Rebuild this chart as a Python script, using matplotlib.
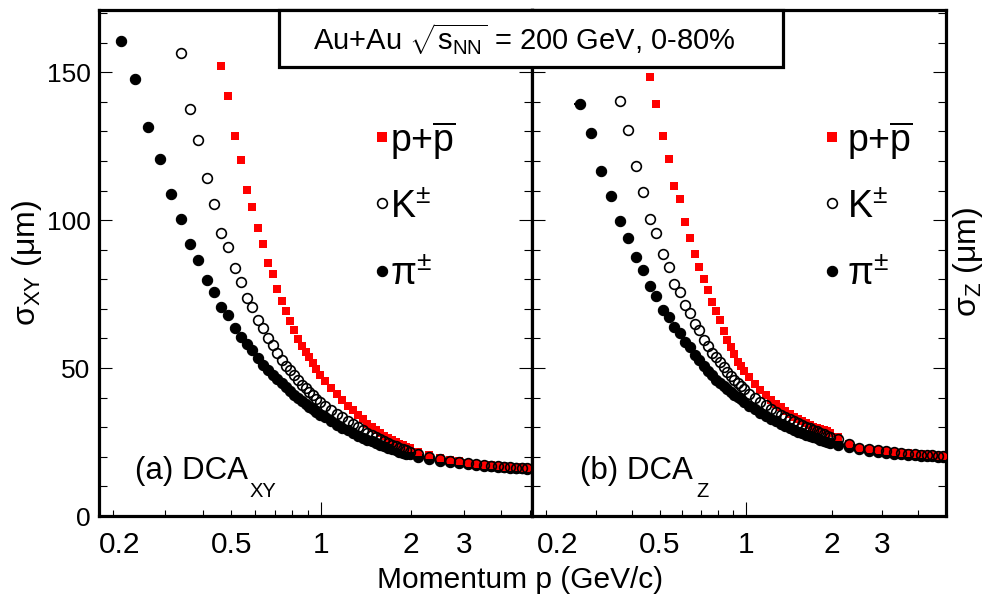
import matplotlib
matplotlib.use('Agg')
import matplotlib.pyplot as plt
from matplotlib.ticker import FixedLocator, FixedFormatter, MultipleLocator
from matplotlib.patches import Rectangle
from matplotlib.transforms import ScaledTranslation

plt.rcParams['font.family'] = ['Liberation Sans', 'DejaVu Sans']
plt.rcParams['mathtext.fontset'] = 'custom'
plt.rcParams['mathtext.rm'] = 'Liberation Sans'
plt.rcParams['mathtext.it'] = 'Liberation Sans:italic'
plt.rcParams['mathtext.bf'] = 'Liberation Sans:bold'

# momentum bin centres (GeV/c)
momentum = [0.2125, 0.2375, 0.2625, 0.2875, 0.3125, 0.3375, 0.3625, 0.3875, 0.4125, 0.4375,
            0.4625, 0.4875, 0.5125, 0.5375, 0.5625, 0.5875, 0.6125, 0.6375, 0.6625, 0.6875,
            0.7125, 0.7375, 0.7625, 0.7875, 0.8125, 0.8375, 0.8625, 0.8875, 0.9125, 0.9375,
            0.9625, 0.9875,
            1.025, 1.075, 1.125, 1.175, 1.225, 1.275, 1.325, 1.375, 1.425, 1.475,
            1.525, 1.575, 1.625, 1.675, 1.725, 1.775, 1.825, 1.875, 1.925, 1.975,
            2.1, 2.3, 2.5, 2.7, 2.9, 3.1, 3.3, 3.5, 3.7, 3.9, 4.1, 4.3, 4.5, 4.7, 4.9]

# (a) DCA_XY resolution (um)
pion_xy = [160.4, 147.6, 131.3, 120.6, 108.9, 100.3, 91.8, 86.5, 79.7, 75.6,
           70.7, 67.9, 63.4, 60.6, 58.1, 56.1, 53.3, 51.0, 49.5, 47.8,
           46.3, 44.8, 43.5, 42.2, 41.0, 39.9, 38.8, 37.8, 36.9, 36.0,
           35.1, 34.3,
           33.3, 32.0, 30.9, 29.8, 28.9, 28.0, 27.2, 26.5, 25.8, 25.2,
           24.6, 24.0, 23.5, 23.0, 22.6, 22.2, 21.8, 21.4, 21.1, 20.8,
           20.1, 19.3, 18.7, 18.3, 17.9, 17.6, 17.3, 17.0, 16.8, 16.6, 16.5, 16.3, 16.2, 16.1, 16.0]
kaon_xy = [156.4, 137.4, 127.0, 114.2, 105.3,
           95.8, 91.0, 83.9, 79.2, 73.6, 70.6, 66.3, 63.7, 60.0, 57.8,
           55.2, 52.7, 50.8, 49.2, 47.6, 45.9, 44.3, 43.1, 41.9, 40.8,
           39.6, 38.6,
           37.2, 35.8, 34.4, 33.3, 32.1, 31.2, 30.1, 29.1, 28.2, 27.4,
           26.6, 25.9, 25.2, 24.6, 24.0, 23.5, 23.0, 22.6, 22.2, 21.8,
           20.9, 20.0, 19.3, 18.7, 18.2, 17.8, 17.5, 17.2, 17.0, 16.8, 16.6, 16.4, 16.3, 16.2, 16.1]
proton_xy = [152.1, 142.1, 128.3, 120.2, 110.1, 104.5, 97.2, 91.8, 85.6, 81.8,
             76.7, 72.7, 69.4, 66.0, 62.8, 59.8, 57.6, 55.5, 53.6, 51.6,
             49.6, 47.8,
             45.7, 43.2, 41.1, 39.1, 37.3, 35.8, 34.2, 32.7, 31.2, 30.0,
             29.0, 28.0, 27.1, 26.3, 25.6, 25.0, 24.4, 23.9, 23.4, 22.9,
             21.8, 20.5, 19.7, 19.0, 18.5, 18.0, 17.7, 17.4, 17.1, 16.9, 16.7, 16.6, 16.4, 16.3, 16.2]

# (b) DCA_Z resolution (um)
pion_z = [139.4, 129.5, 116.6, 108.1, 99.7, 94.1, 87.5, 83.1,
          77.7, 74.2, 69.6, 67.3, 63.8, 62.0, 58.9, 57.0, 54.5, 52.6,
          50.6, 49.0, 47.5, 46.1, 44.9, 43.8, 42.8, 41.9, 41.0, 40.2,
          39.4, 38.6,
          37.3, 36.0, 34.7, 33.7, 32.8, 32.0, 31.2, 30.4, 29.7, 29.0,
          28.5, 28.0, 27.5, 27.0, 26.6, 26.2, 25.8, 25.4, 25.0, 24.6,
          24.0, 23.2, 22.5, 22.1, 21.7, 21.4, 21.1, 20.9, 20.7, 20.5, 20.4, 20.3, 20.2, 20.1, 20.0]
kaon_z = [140.3, 130.4, 118.2, 109.4,
          100.3, 95.8, 88.6, 84.1, 78.5, 75.6, 71.3, 68.5, 65.0, 62.8,
          59.5, 57.3, 55.2, 53.6, 52.0, 50.3, 48.6, 47.3, 46.1, 45.0,
          44.0, 43.0,
          41.4, 40.0, 38.7, 37.4, 36.2, 35.2, 34.3, 33.5, 32.7, 32.0,
          31.4, 30.8, 30.2, 29.6, 29.1, 28.6, 28.1, 27.6, 27.2, 26.8,
          25.9, 24.5, 23.1, 22.5, 22.2, 21.9, 21.6, 21.3, 21.1, 20.9, 20.7, 20.6, 20.5, 20.4, 20.3]
proton_z = [148.4, 139.4, 128.4, 120.6, 111.6, 107.1, 99.2, 93.9, 88.7, 84.2,
            80.1, 76.4, 72.4, 69.4, 66.2, 62.5, 59.6, 57.0, 54.6, 52.1,
            50.6, 49.0,
            46.9, 44.6, 42.6, 40.8, 39.2, 37.9, 36.7, 35.5, 34.4, 33.5,
            32.7, 32.0, 31.3, 30.7, 30.2, 29.8, 29.4, 29.0, 28.6, 28.1,
            26.6, 24.5, 22.9, 22.5, 22.3, 22.1, 21.7, 21.4, 21.2, 20.9, 20.8, 20.6, 20.5, 20.4, 20.3]

species_labels = [r'p+$\overline{\mathrm{p}}$', r'K$^{\pm}$', r'π$^{\pm}$']
x_minor_ticks = [0.2, 0.3, 0.4, 0.5, 0.6, 0.7, 0.8, 0.9, 2, 3, 4, 5]
x_minor_labels = ['0.2', '', '', '0.5', '', '', '', '', '2', '3', '', '']


def pad_to(values):
    # series that start later use the last len(values) momentum bins
    return momentum[len(momentum) - len(values):]


def draw_panel(ax, pion, kaon, proton, xlim, legend_x, text_x, tag_x, tag, sub, sub_x, shift_02):
    ax.plot(pad_to(pion), pion, 'o', color='black', ms=7.4, mew=0.8, zorder=3)
    ax.plot(pad_to(proton), proton, 's', color='red', ms=6, mew=0, zorder=4)
    ax.plot(pad_to(kaon), kaon, 'o', mfc='none', mec='black', ms=7, mew=1.2, zorder=5)

    ax.set_xscale('log')
    ax.set_xlim(*xlim)
    ax.set_ylim(0, 171)

    ax.xaxis.set_major_locator(FixedLocator([1]))
    ax.xaxis.set_major_formatter(FixedFormatter(['1']))
    ax.xaxis.set_minor_locator(FixedLocator(x_minor_ticks))
    ax.xaxis.set_minor_formatter(FixedFormatter(x_minor_labels))
    ax.yaxis.set_major_locator(MultipleLocator(50))
    ax.yaxis.set_minor_locator(MultipleLocator(10))

    ax.tick_params(axis='x', which='major', direction='in', length=10, width=0.8,
                   labelsize=21.5, pad=11, top=False)
    ax.tick_params(axis='x', which='minor', direction='in', length=4.3, width=0.8,
                   labelsize=21.5, pad=11, top=False)
    ax.tick_params(axis='y', which='major', direction='in', length=9.4, width=0.8,
                   labelsize=19, pad=6, left=True, right=True)
    ax.tick_params(axis='y', which='minor', direction='in', length=5.5, width=0.8,
                   left=True, right=True)
    for s in ax.spines.values():
        s.set_linewidth(2.3)

    # ROOT nudges the first log label off its tick
    first = ax.xaxis.get_minor_ticks()[0]
    first.label1.set_transform(first.label1.get_transform()
                               + ScaledTranslation(shift_02 / 100, 0, ax.figure.dpi_scale_trans))

    # legend entries
    marker_y = [0.749, 0.618, 0.4848]
    text_y = [0.720, 0.5884, 0.4565]
    styles = [dict(marker='s', color='red', ms=6.5, mew=0),
              dict(marker='o', mfc='none', mec='black', ms=7, mew=1.2),
              dict(marker='o', color='black', ms=7.4, mew=0.8)]
    for lab, my, ty, st in zip(species_labels, marker_y, text_y, styles):
        ax.plot([legend_x], [my], transform=ax.transAxes, ls='none', **st)
        ax.text(text_x, ty, lab, transform=ax.transAxes, fontsize=27,
                ha='left', va='baseline')

    ax.text(tag_x, 0.0725, tag + ' DCA', transform=ax.transAxes,
            fontsize=22.5, ha='left', va='baseline')
    ax.text(sub_x, 0.0381, sub, transform=ax.transAxes, fontsize=14.5,
            ha='left', va='baseline')


fig = plt.figure(figsize=(9.93, 5.96), dpi=100)
ax1 = fig.add_axes([0.0997, 0.1342, 0.4361, 0.849])
ax2 = fig.add_axes([0.5358, 0.1342, 0.4169, 0.849])

draw_panel(ax1, pion_xy, kaon_xy, proton_xy, (0.18, 5.08), 0.654, 0.672, 0.083,
           '(a)', 'XY', 0.3487, 7)
draw_panel(ax2, pion_z, kaon_z, proton_z, (0.179, 5.02), 0.7254, 0.760, 0.116,
           '(b)', 'Z', 0.398, 12)
ax2.tick_params(axis='y', which='both', labelleft=False)

# small horizontal error bar on the lowest-momentum DCA_Z pion point
ax2.errorbar(pad_to(pion_z)[:1], pion_z[:1], xerr=[[0.012], [0.012]], fmt='none',
             ecolor='black', elinewidth=1.5, capsize=0, zorder=3)

fig.text(0.0272, 0.5596, r'σ$_{\mathrm{XY}}$ (μm)', rotation=90, fontsize=23,
         ha='center', va='center')
fig.text(0.975, 0.561, r'σ$_{\mathrm{Z}}$ (μm)', rotation=90, fontsize=23,
         ha='center', va='center')
fig.text(0.5237, 0.0129, 'Momentum p (GeV/c)', fontsize=21.5, ha='center', va='baseline')

box = Rectangle((0.281, 0.8876), 0.5076, 0.0956, transform=fig.transFigure,
                facecolor='white', edgecolor='black', linewidth=2.3, zorder=10)
fig.add_artist(box)
fig.text(0.3152, 0.9161, r'Au+Au $\sqrt{\mathrm{s}_{\mathrm{NN}}}$ = 200 GeV, 0-80%',
         fontsize=21, ha='left', va='baseline', zorder=11)

fig.savefig('out.png', dpi=100)
